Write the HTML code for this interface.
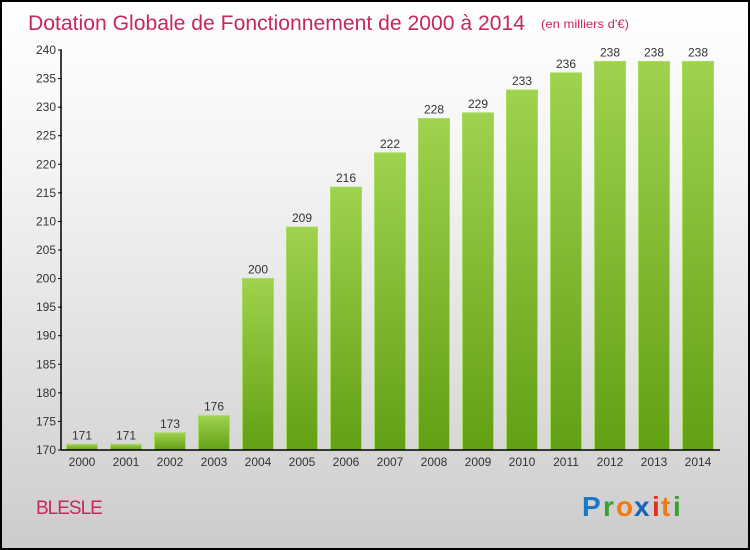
<!DOCTYPE html>
<html><head><meta charset="utf-8"><style>
html,body{margin:0;padding:0}
body{width:750px;height:550px;overflow:hidden;font-family:"Liberation Sans",sans-serif}
#frame{position:absolute;left:0;top:0;width:746px;height:546px;border:2px solid #000;background:linear-gradient(#ffffff 0%,#f4f4f4 30%,#d8d8d8 80%,#cccccc 100%)}
</style></head><body>
<div id="frame">
<svg width="750" height="550" style="position:absolute;left:-2px;top:-2px">
<defs>
<linearGradient id="bg" x1="0" y1="0" x2="0" y2="1"><stop offset="0" stop-color="#9fd24e"/><stop offset="1" stop-color="#62a014"/></linearGradient>
</defs>
<text x="28" y="30" font-size="21" fill="#c8275a" textLength="497" lengthAdjust="spacingAndGlyphs">Dotation Globale de Fonctionnement de 2000 à 2014</text>
<text x="541" y="28" font-size="12" fill="#c8275a" textLength="88" lengthAdjust="spacingAndGlyphs">(en milliers d'€)</text>
<g id="yaxis"></g>
<g id="bars"></g>
<g id="xaxis"></g>
<text x="36" y="514" font-size="19" fill="#c8275a" style="letter-spacing:-1px">BLESLE</text>
<g font-size="28" font-weight="bold" font-family="Liberation Sans, sans-serif">
<text x="582" y="516" fill="#1a78c8">P</text><text x="603" y="516" fill="#3aa030">r</text><text x="616" y="516" fill="#f07a10">o</text><text x="634" y="516" fill="#1a60b8">x</text><text x="652" y="516" fill="#e03020">i</text><text x="661" y="516" fill="#f07a10">t</text><text x="673" y="516" fill="#3aa030">i</text>
</g>
</svg></div>
<script>
const years=["2000","2001","2002","2003","2004","2005","2006","2007","2008","2009","2010","2011","2012","2013","2014"];
const values=[171,171,173,176,200,209,216,222,228,229,233,236,238,238,238];
const yTicks=[170,175,180,185,190,195,200,205,210,215,220,225,230,235,240];
const NS="http://www.w3.org/2000/svg";
const y0=450,y1=50,vmin=170,vmax=240;
const ys=v=>y0-(v-vmin)/(vmax-vmin)*(y0-y1);
const xs=i=>82+i*44;
function mk(t,a,p){const e=document.createElementNS(NS,t);for(const k in a)e.setAttribute(k,a[k]);p.appendChild(e);return e;}
const ya=document.getElementById('yaxis'),ba=document.getElementById('bars'),xa=document.getElementById('xaxis');
mk('line',{x1:61,y1:y1,x2:61,y2:y0,stroke:'#000','stroke-width':1.5},ya);
yTicks.forEach(v=>{const y=ys(v);
 mk('line',{x1:58,y1:y,x2:62,y2:y,stroke:'#000'},ya);
 const t=mk('text',{x:56,y:y+4,'font-size':12,fill:'#333','text-anchor':'end'},ya);t.textContent=v;
 
 
});
values.forEach((v,i)=>{const x=xs(i),y=ys(v);
 const r=mk('rect',{x:x-15.5,y:y,width:31,height:y0-y,fill:'url(#bg)',stroke:'#a8dc5c','stroke-width':1},ba);
 
 
 const t=mk('text',{x:x,y:y-5,'font-size':12,fill:'#333','text-anchor':'middle'},ba);t.textContent=v;
 
 
 const l=mk('text',{x:x,y:466,'font-size':12,fill:'#333','text-anchor':'middle'},xa);l.textContent=years[i];
 
 
});
mk('line',{x1:61,y1:y0,x2:720,y2:y0,stroke:'#000','stroke-width':1.5},xa);
</script>
</body></html>
